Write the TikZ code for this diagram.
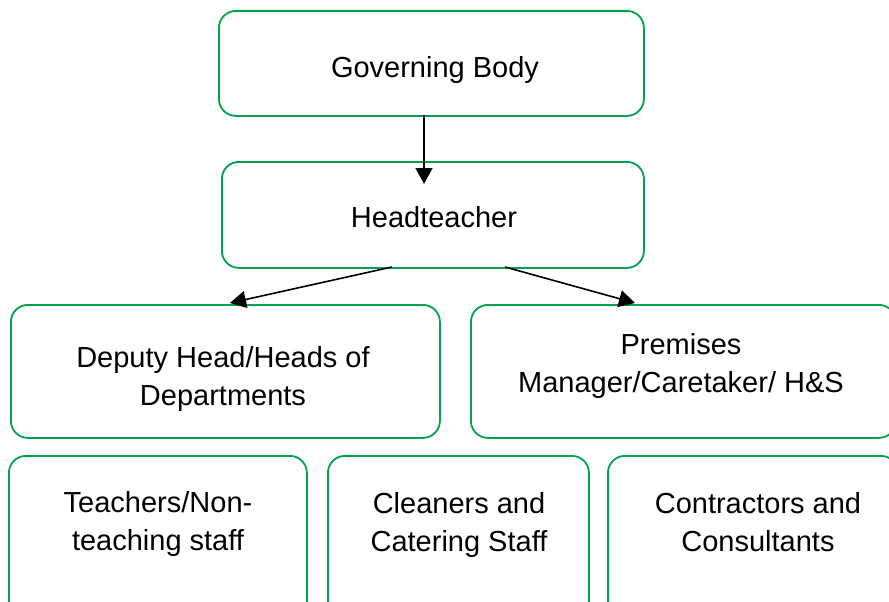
\documentclass[tikz,border=0pt]{standalone}
\usepackage{fontspec}
\setmainfont{Liberation Sans}
\usetikzlibrary{arrows.meta}
\definecolor{boxgreen}{RGB}{0,163,80}
\tikzset{
  box/.style={draw=boxgreen, line width=1.8pt, rounded corners=17pt, fill=white,
    anchor=north west, inner sep=0pt},
  lbl/.style={align=center, font=\fontsize{29}{38}\selectfont, inner sep=0pt},
  arr/.style={draw=black, line width=1.6pt, -{Triangle[length=16pt,width=17pt]}}
}
\begin{document}
\begin{tikzpicture}[x=1pt,y=-1pt]
\useasboundingbox (0,0) rectangle (889,602);
\clip (0,0) rectangle (889,602);
\fill[white] (0,0) rectangle (889,602);
% boxes
\node[box, minimum width=425pt, minimum height=105pt] (gov) at (218,10) {};
\node[box, minimum width=422pt, minimum height=106pt] (head) at (221,161) {};
\node[box, minimum width=429pt, minimum height=133pt] (dep) at (10,304) {};
\node[box, minimum width=425pt, minimum height=133pt] (prem) at (470,304) {};
\node[box, minimum width=298pt, minimum height=170pt] (teach) at (8,455) {};
\node[box, minimum width=261pt, minimum height=170pt] (clean) at (327,455) {};
\node[box, minimum width=290pt, minimum height=170pt] (contr) at (607,455) {};
% labels
\node[lbl] (tgov) at (435,70.5) {Governing Body};
\node[lbl] (thead) at (434,217) {Headteacher};
\node[lbl] (tdep) at (223,378.5) {Deputy Head/Heads of\\Departments};
\node[lbl] (tprem) at (681,365.5) {Premises\\Manager/Caretaker/ H\&S};
\node[lbl] (tteach) at (158,524) {Teachers/Non-\\teaching staff};
\node[lbl] (tclean) at (459,524.5) {Cleaners and\\Catering Staff};
\node[lbl] (tcontr) at (758,522) {Contractors and\\Consultants};
% connector end points
\coordinate (a1s) at (424,115);
\coordinate (a1e) at (424,184);
\coordinate (a2s) at (392,267);
\coordinate (a2e) at (230,303);
\coordinate (a3s) at (505,267);
\coordinate (a3e) at (635,303);
\draw[arr] (a1s) -- (a1e);
\draw[arr] (a2s) -- (a2e);
\draw[arr] (a3s) -- (a3e);
\end{tikzpicture}
\end{document}
